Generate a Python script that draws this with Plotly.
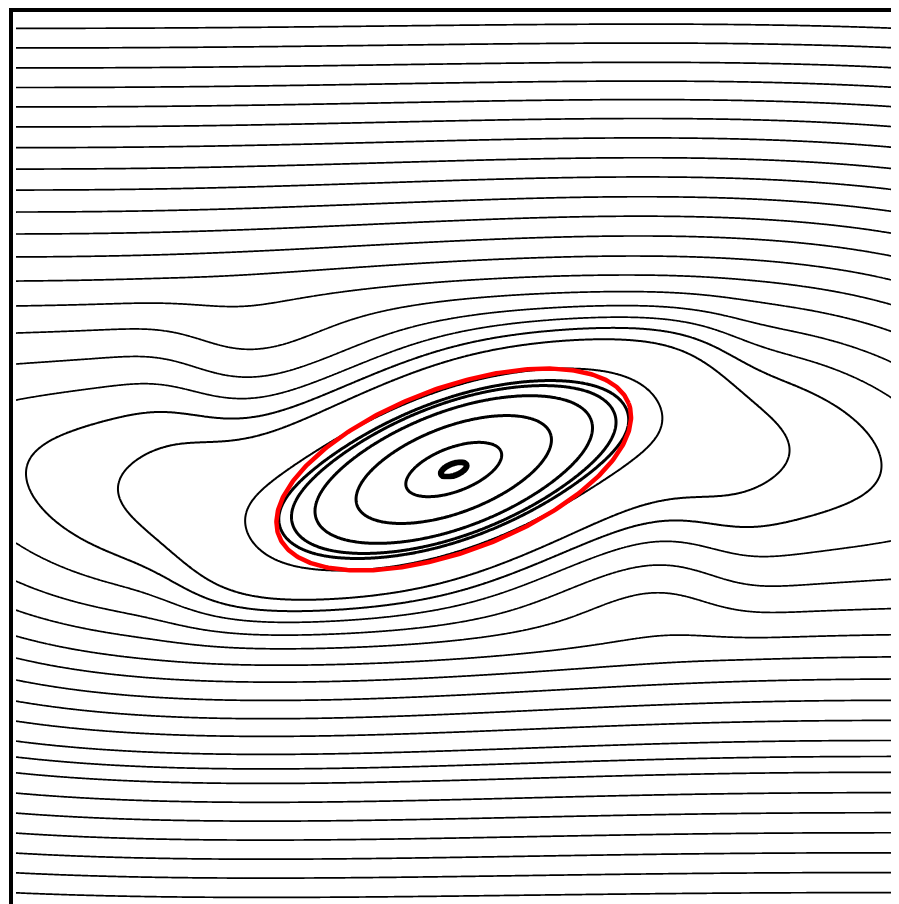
import numpy as np
import plotly.graph_objects as go

# ---- stream-function model parameters (tilted vortex in a periodic shear layer) ----
x_center = 3.108      # vortex centre (rad)
core_strength = 0.633 # concentrated elliptical core
core_sx = 0.9
core_sy = 0.55
wave_amp = 0.35       # lopsided outer wave (peak towards upper right / lower left)
wave_pow = 2.5
wave_blend = 0.8      # height over which the upper and lower waves blend
shear_m = 0.252       # tilt (vertical shear) of the core
shear_w = 1.8         # x-extent of the tilt
shear_s = 1.1         # y-extent of the tilt

# ---- streamlines ----
# open streamlines: height where they meet the left edge (x = 0)
open_top_y = [3.132, 2.993, 2.851, 2.712, 2.574, 2.432, 2.285, 2.133, 1.984,
              1.828, 1.672, 1.509, 1.338, 1.161, 0.969, 0.749, 0.493]
open_bottom_y = [-0.522, -0.792, -0.998, -1.182, -1.338, -1.494, -1.644, -1.786,
                 -1.928, -2.041, -2.153, -2.297, -2.439, -2.581, -2.723, -2.863, -3.005]
# closed streamlines: their leftmost points
outer_loop_x = [0.071, 0.724, 1.633]
outer_loop_y = [-0.025, -0.131, -0.415]
inner_loop_x = [1.867, 1.974, 2.130, 2.421, 2.769]
inner_loop_y = [-0.373, -0.415, -0.344, -0.252, -0.117]
core_x = [3.017]
core_y = [-0.032]

# vortex-patch boundary (red ellipse)
patch_center = (3.108, 0.0)
patch_a = 1.328
patch_b = 0.579
patch_angle_deg = 20.7

x_range = [-0.0213, 6.326]
y_range = [-3.127, 3.248]

_tpk = wave_pow / (wave_pow + 1.0)
_bmax = _tpk ** wave_pow * (1.0 - _tpk)


def lopsided(t):
    return np.abs(t) ** wave_pow * (1.0 - t) / _bmax


def stream(x, y):
    X = x - x_center
    shift = shear_m * X * np.exp(-(X / shear_w) ** 6) * np.exp(-(y / shear_s) ** 6)
    Y = y - shift
    core = core_strength * np.exp(-0.5 * ((X / core_sx) ** 2 + (Y / core_sy) ** 2))
    t = (X + np.pi) / (2 * np.pi)
    s = 0.5 * (1.0 + np.tanh(y / wave_blend))
    wave = wave_amp * (s * lopsided(t) + (1.0 - s) * lopsided(1.0 - t))
    return np.cosh(Y) - core - wave


xg = np.linspace(0.0, 2 * np.pi, 640)
yg = np.linspace(y_range[0], y_range[1], 760)
XX, YY = np.meshgrid(xg, yg)
PSI = stream(XX, YY)
row_min = PSI.min(axis=1)
row_max = PSI.max(axis=1)

fig = go.Figure()


def add_level(level, width, side=0):
    ok = (row_min <= level) & (row_max >= level)
    if side > 0:
        ok &= yg > 0
    elif side < 0:
        ok &= yg < 0
    idx = np.where(ok)[0]
    lo = max(idx.min() - 3, 0)
    hi = min(idx.max() + 4, len(yg))
    if side > 0:
        lo = max(lo, int(np.searchsorted(yg, 0.0)))
    elif side < 0:
        hi = min(hi, int(np.searchsorted(yg, 0.0)))
    fig.add_trace(go.Contour(
        x=xg, y=yg[lo:hi], z=PSI[lo:hi].astype(np.float32),
        contours=dict(coloring="lines", start=level, end=level, size=1.0,
                      showlabels=False),
        line=dict(width=width, smoothing=1.0),
        colorscale=[[0, "black"], [1, "black"]],
        showscale=False, hoverinfo="skip",
    ))


for v in open_top_y:
    add_level(float(stream(0.0, v)), 1.7, side=1)
for v in open_bottom_y:
    add_level(float(stream(0.0, v)), 1.7, side=-1)
for a, b in zip(outer_loop_x, outer_loop_y):
    add_level(float(stream(a, b)), 2.0)
for a, b in zip(inner_loop_x, inner_loop_y):
    add_level(float(stream(a, b)), 3.0)
for a, b in zip(core_x, core_y):
    add_level(float(stream(a, b)), 6.0)

tt = np.linspace(0, 2 * np.pi, 400)
ang = np.deg2rad(patch_angle_deg)
ex = patch_center[0] + patch_a * np.cos(tt) * np.cos(ang) - patch_b * np.sin(tt) * np.sin(ang)
ey = patch_center[1] + patch_a * np.cos(tt) * np.sin(ang) + patch_b * np.sin(tt) * np.cos(ang)
fig.add_trace(go.Scatter(x=ex, y=ey, mode="lines", line=dict(color="red", width=4.5),
                         hoverinfo="skip", showlegend=False))

fig.update_layout(
    width=899, height=904,
    margin=dict(l=5, r=0, t=4, b=2),
    paper_bgcolor="white", plot_bgcolor="white",
    showlegend=False,
)
fig.update_xaxes(range=x_range, showgrid=False, zeroline=False, showticklabels=False,
                 ticks="", showline=True, linewidth=4, linecolor="black", mirror=True)
fig.update_yaxes(range=y_range, showgrid=False, zeroline=False, showticklabels=False,
                 ticks="", showline=True, linewidth=4, linecolor="black", mirror=False)

fig.write_html("out.html")
